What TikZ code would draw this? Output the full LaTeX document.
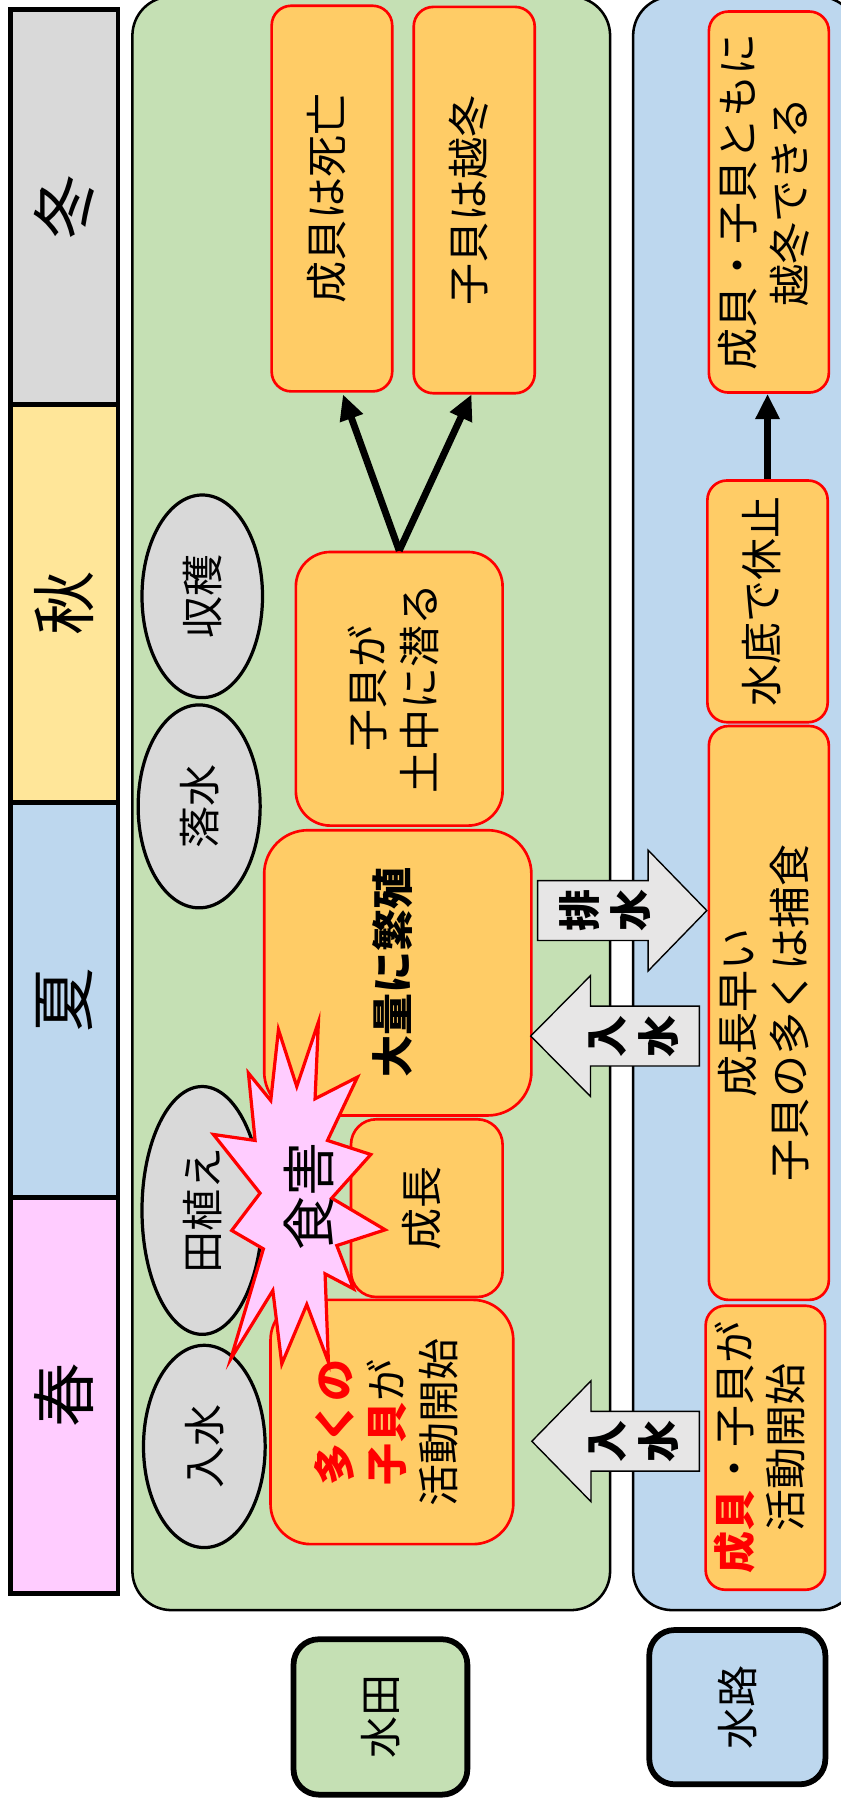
\documentclass[tikz,border=0pt]{standalone}
\usepackage{fontspec}
\setmainfont{Noto Sans CJK JP}
\usepackage{graphicx}
\usetikzlibrary{arrows.meta,shapes.geometric}
\definecolor{boxfill}{HTML}{FFCC66}
\definecolor{paddy}{HTML}{C5E0B4}
\definecolor{canal}{HTML}{BDD7EE}
\definecolor{ellgray}{HTML}{D9D9D9}
\definecolor{pinkf}{HTML}{FFCCFF}
\definecolor{autumnc}{HTML}{FFE699}
\definecolor{arrowgray}{HTML}{E7E6E6}
\definecolor{redline}{HTML}{FF0000}
\newcommand{\rt}[1]{\rotatebox{90}{\begin{tabular}{@{}c@{}}#1\end{tabular}}}
\begin{document}
\begin{tikzpicture}[x=1pt,y=-1pt,
  font=\fontsize{36.5}{45}\selectfont,
  obox/.style={draw=redline, fill=boxfill, line width=2.3pt, inner sep=0pt},
  ell/.style={ellipse, draw=black, fill=ellgray, line width=2.8pt, inner sep=0pt},
  seasonbox/.style={draw=black, line width=4pt, inner sep=0pt, font=\fontsize{56}{64}\selectfont},
  panel/.style={draw=black, line width=2.2pt, rounded corners=34pt, inner sep=0pt},
  labelbox/.style={draw=black, line width=5pt, rounded corners=22pt, inner sep=0pt},
  blockarrow/.style={draw=black, fill=arrowgray, line width=1.2pt},
  conn/.style={line width=6pt, -{Triangle[length=22pt,width=20pt]}}
]
\useasboundingbox (0,0) rectangle (730,1568);
\fill[white] (0,0) rectangle (730,1568);

% panels
\node[panel, fill=paddy, minimum width=415pt, minimum height=1401.7pt] (paddyarea) at (322.5,697.85) {};
\node[panel, fill=canal, minimum width=195pt, minimum height=1401.7pt] (canalarea) at (647.5,697.85) {};

% seasons
\node[seasonbox, fill=ellgray, minimum width=93.1pt, minimum height=343.2pt] (winter) at (55.85,179.9) {\rotatebox{90}{冬}};
\node[seasonbox, fill=autumnc, minimum width=93.1pt, minimum height=345.8pt] (autumn) at (55.85,524.4) {\rotatebox{90}{秋}};
\node[seasonbox, fill=canal, minimum width=93.1pt, minimum height=342.7pt] (summer) at (55.85,868.65) {\rotatebox{90}{夏}};
\node[seasonbox, fill=pinkf, minimum width=93.1pt, minimum height=344.4pt] (spring) at (55.85,1212.2) {\rotatebox{90}{春}};

% ellipses
\node[ell, minimum width=104.7pt, minimum height=176pt] (harvest) at (175.7,518) {\rotatebox{90}{収穫}};
\node[ell, minimum width=106pt, minimum height=176.3pt] (drain) at (173,700.5) {\rotatebox{90}{落水}};
\node[ell, minimum width=104.7pt, minimum height=215.3pt] (plant) at (175.7,1051.5) {\rotatebox{90}{田植え}};
\node[ell, minimum width=105.7pt, minimum height=175.7pt] (flood) at (177.5,1256.5) {\rotatebox{90}{入水}};

% boxes in paddy
\node[obox, rounded corners=17pt, minimum width=104.7pt, minimum height=335pt] (die) at (288.35,172.5) {\rt{成貝は死亡}};
\node[obox, rounded corners=17pt, minimum width=105.1pt, minimum height=335.6pt] (overwinter) at (411.95,173.8) {\rt{子貝は越冬}};
\node[obox, rounded corners=30pt, minimum width=179.6pt, minimum height=237.7pt] (sink) at (346.8,598.35) {\rt{子貝が\\土中に潜る}};
\node[obox, rounded corners=38pt, minimum width=232.1pt, minimum height=247.8pt] (breed) at (345.55,845.1) {\rt{\bfseries 大量に繁殖}};
\node[obox, rounded corners=22pt, minimum width=131.7pt, minimum height=154.4pt] (grow) at (370.75,1049.5) {\rt{成長}};
\node[obox, rounded corners=35pt, minimum width=210.9pt, minimum height=212.2pt] (startone) at (340.45,1235.3) {\rt{\textcolor{redline}{\bfseries 多くの}\\\textcolor{redline}{\bfseries 子貝}が\\活動開始}};

% boxes in canal
\node[obox, rounded corners=17pt, minimum width=104.2pt, minimum height=331pt] (both) at (667.9,175.5) {\rt{成貝・子貝ともに\\越冬できる}};
\node[obox, rounded corners=17pt, minimum width=104.5pt, minimum height=210pt] (rest) at (666.75,522.4) {\rt{水底で休止}};
\node[obox, rounded corners=17pt, minimum width=104.2pt, minimum height=498.5pt] (eaten) at (667.9,879.95) {\rt{成長早い\\子貝の多くは捕食}};
\node[obox, rounded corners=17pt, minimum width=103.8pt, minimum height=246.7pt] (starttwo) at (664.9,1257.65) {\rt{\textcolor{redline}{\bfseries 成貝}・子貝が\\活動開始}};

% block arrows
\draw[blockarrow] (467,765) -- (563,765) -- (563,738.5) -- (614,791) -- (563,843.5) -- (563,817) -- (467,817) -- cycle;
\node (drainlabel) at (530.5,791) {\rt{\bfseries 排\\\bfseries 水}};
\draw[blockarrow] (461,900) -- (513,847.5) -- (513,874) -- (607.5,874) -- (607.5,926) -- (513,926) -- (513,952.5) -- cycle;
\node (floodlabeltwo) at (554,900) {\rt{\bfseries 入\\\bfseries 水}};
\draw[blockarrow] (462,1252) -- (513.4,1199.5) -- (513.4,1226) -- (607.5,1226) -- (607.5,1278) -- (513.4,1278) -- (513.4,1304.5) -- cycle;
\node (floodlabelone) at (554,1252) {\rt{\bfseries 入\\\bfseries 水}};

% connectors
\coordinate (tipdie) at (297.9,342.6);
\coordinate (tipwin) at (409.6,342.6);
\draw[conn] (sink.north) -- (tipdie);
\draw[conn] (sink.north) -- (tipwin);
\draw[conn] (rest.north) -- (rest.north |- both.south);

% starburst
\filldraw[draw=redline, fill=pinkf, line width=2.8pt]
 (276.6,887.9) -- (257.8,943.8) -- (241.9,894.5) -- (235.2,956.0) -- (215.8,932.2) -- (221.6,990.7)
 -- (185.4,985.5) -- (225.9,1036.5) -- (201.3,1068.9) -- (228.8,1084.9) -- (200.5,1180.4) -- (237.0,1121.1)
 -- (244.8,1184.8) -- (266.5,1133.2) -- (285.3,1183.3) -- (282.4,1106.6) -- (307.1,1119.6) -- (292.6,1082.0)
 -- (334.6,1068.3) -- (288.2,1040.8) -- (322.1,1002.9) -- (284.5,990.7) -- (310.5,935.7) -- (273.7,954.5) -- cycle;
\node[font=\fontsize{47}{52}\selectfont] (harm) at (268.5,1039) {\rotatebox{90}{食害}};

% row labels
\node[labelbox, fill=paddy, minimum width=151pt, minimum height=135pt] (paddylabel) at (330.5,1491.5) {\rotatebox{90}{水田}};
\node[labelbox, fill=canal, minimum width=153pt, minimum height=134pt] (canallabel) at (640.5,1483) {\rotatebox{90}{水路}};
\end{tikzpicture}
\end{document}
